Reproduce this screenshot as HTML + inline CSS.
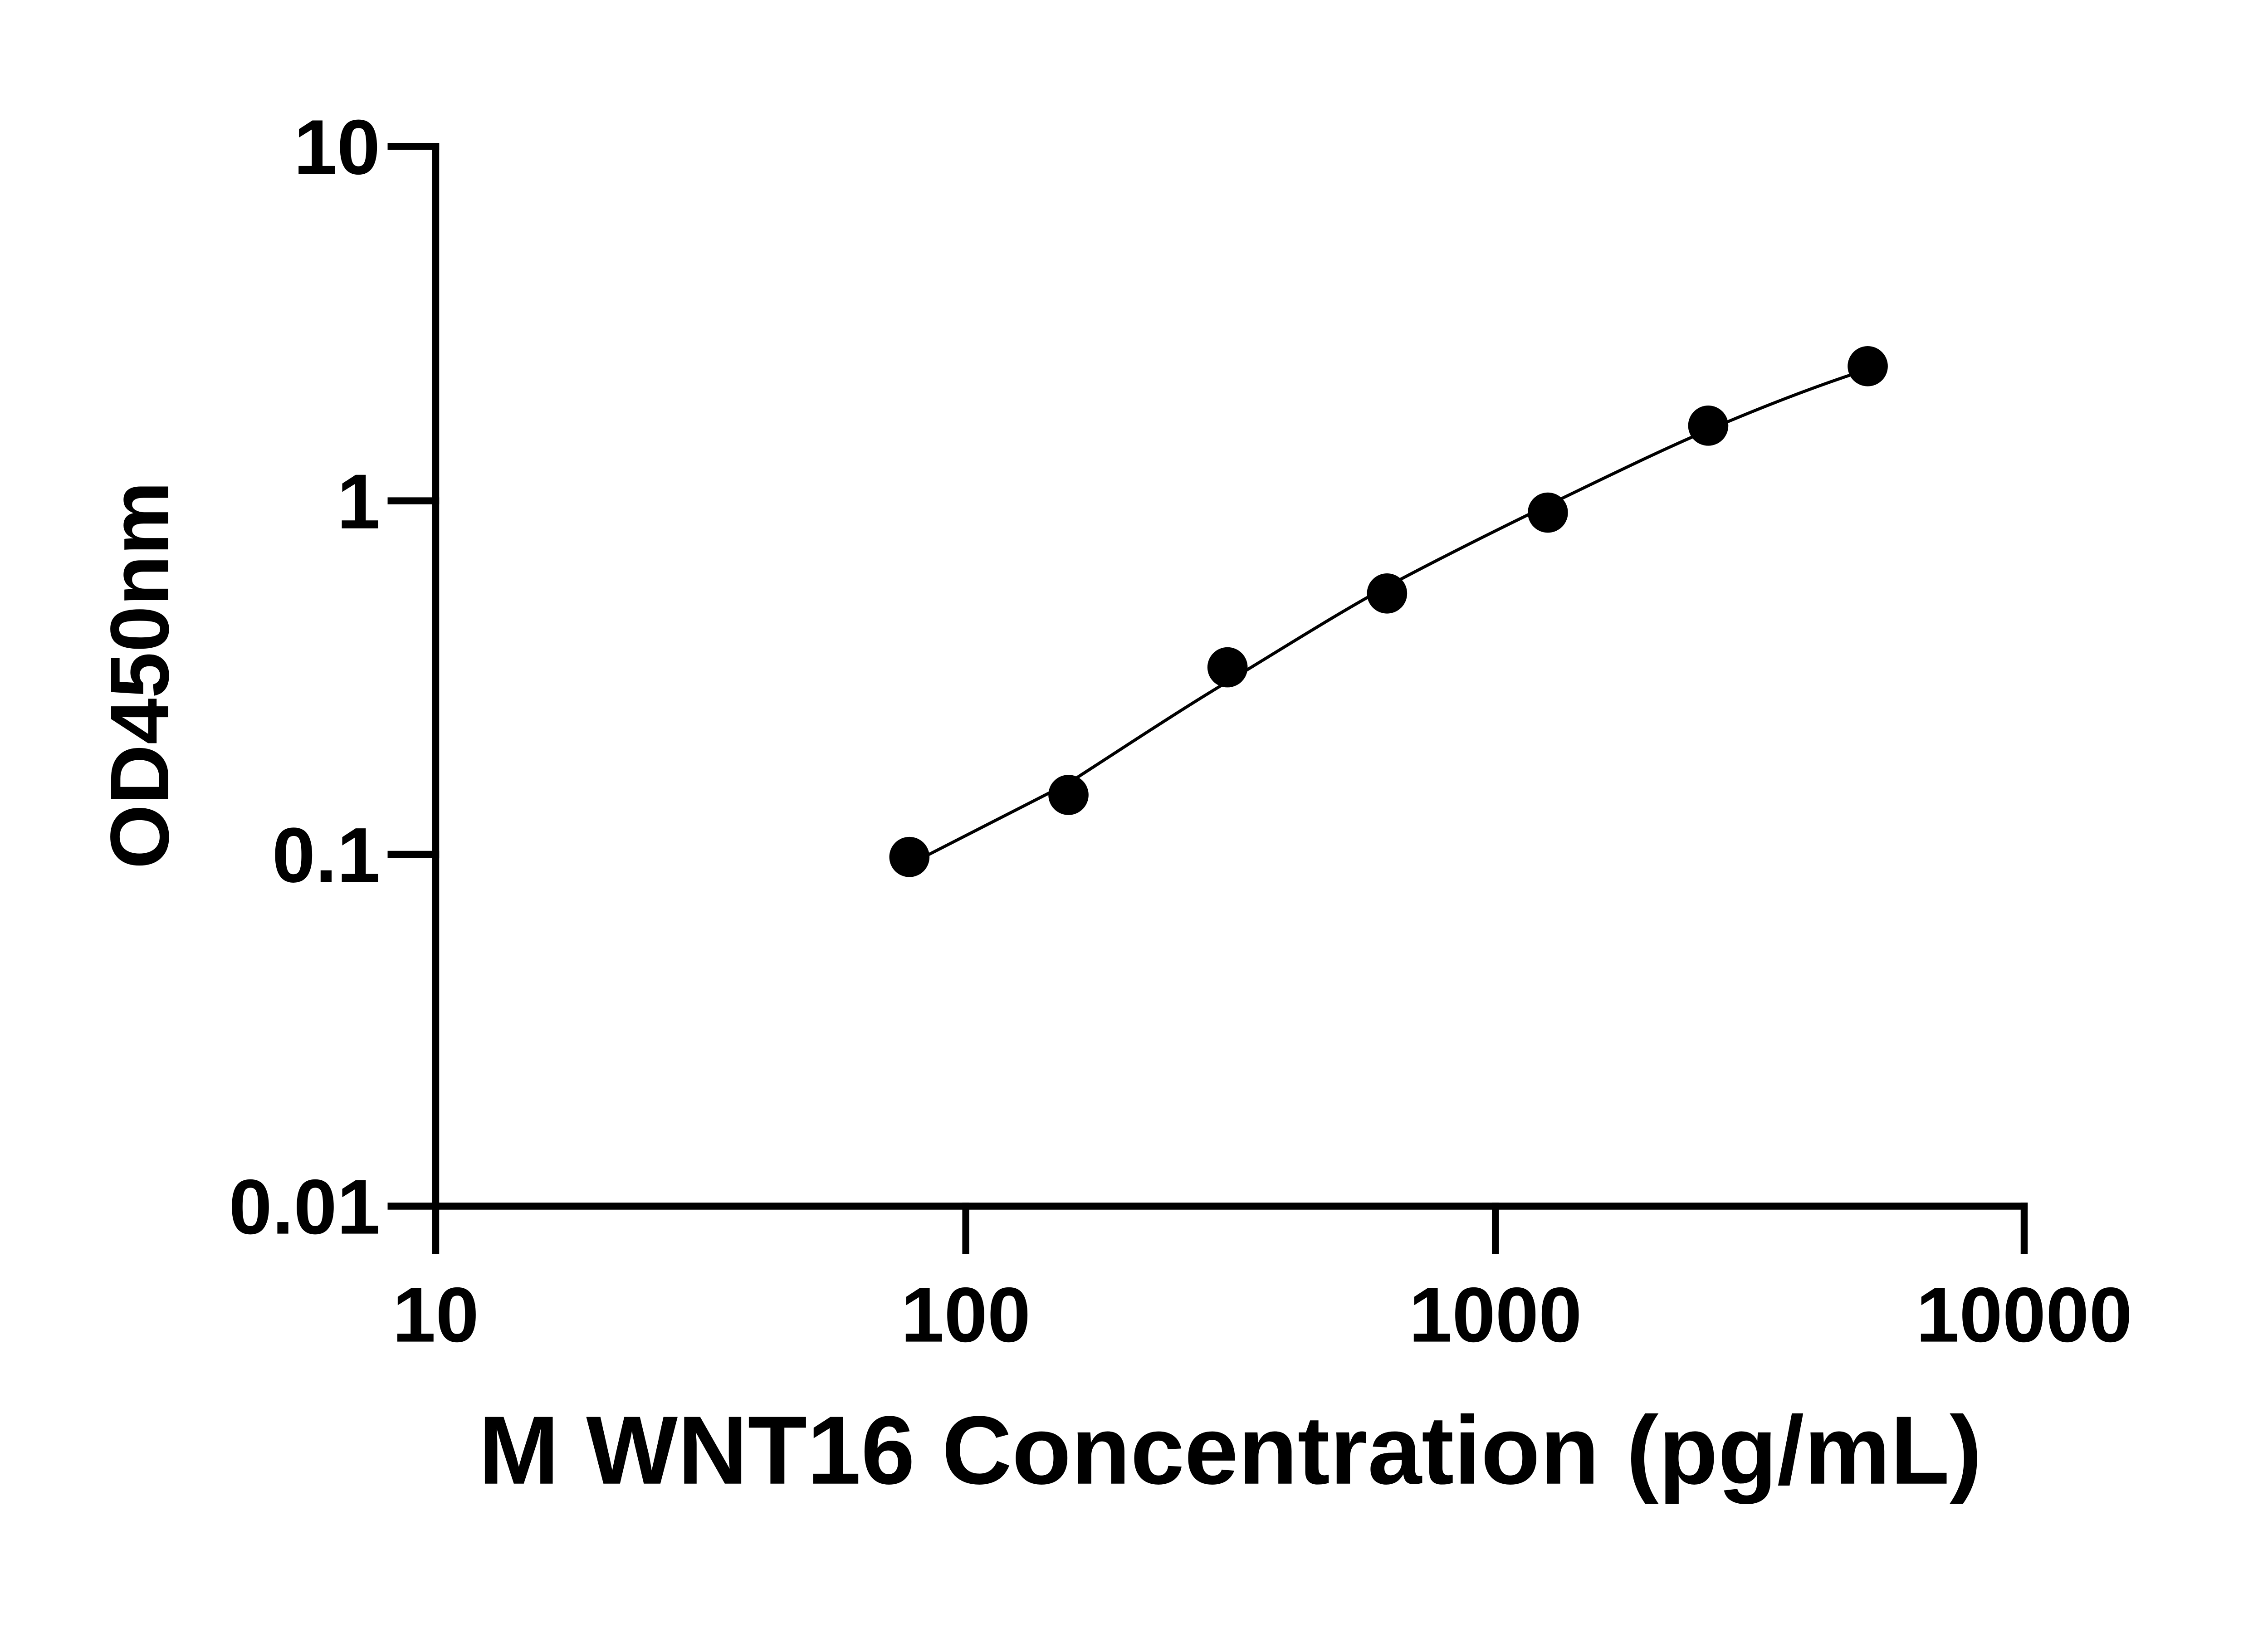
<!DOCTYPE html>
<html><head><meta charset="utf-8"><style>
html,body{margin:0;padding:0;background:#fff;}
svg{display:block;}
text{font-family:"Liberation Sans",sans-serif;font-weight:bold;fill:#000;}
</style></head><body>
<svg width="5142" height="3600" viewBox="0 0 5142 3600" xmlns="http://www.w3.org/2000/svg">
<g transform="scale(0.9634)">
<g stroke="#000" stroke-width="16" fill="none" stroke-linecap="square">
<line x1="997" y1="335" x2="997" y2="2760"/>
<line x1="997" y1="2760" x2="4632" y2="2760"/>
<line x1="895" y1="335" x2="997" y2="335"/>
<line x1="895" y1="1146" x2="997" y2="1146"/>
<line x1="895" y1="1955" x2="997" y2="1955"/>
<line x1="895" y1="2760" x2="997" y2="2760"/>
<line x1="997" y1="2760" x2="997" y2="2862"/>
<line x1="2210" y1="2760" x2="2210" y2="2862"/>
<line x1="3422" y1="2760" x2="3422" y2="2862"/>
<line x1="4632" y1="2760" x2="4632" y2="2862"/>
</g>
<path fill="none" stroke="#000" stroke-width="7" d="M2081,1978 L2445,1792 C2560,1718 2700,1625 2809,1560 C2930,1487 3050,1410 3174,1342 C3300,1275 3420,1215 3542,1156 C3665,1097 3790,1035 3909,984 C4030,932 4150,885 4274,845"/>
<g fill="#000">
<circle cx="2081" cy="1961" r="46"/>
<circle cx="2445" cy="1819" r="46"/>
<circle cx="2809" cy="1527" r="46"/>
<circle cx="3174" cy="1358" r="46"/>
<circle cx="3542" cy="1173" r="46"/>
<circle cx="3909" cy="974" r="46"/>
<circle cx="4274" cy="838" r="46"/>
</g>
<g font-size="178" text-anchor="end">
<text x="870" y="398">10</text>
<text x="870" y="1209">1</text>
<text x="870" y="2018">0.1</text>
<text x="870" y="2823">0.01</text>
</g>
<g font-size="178" text-anchor="middle">
<text x="997" y="3070">10</text>
<text x="2210" y="3070">100</text>
<text x="3422" y="3070">1000</text>
<text x="4632" y="3070">10000</text>
</g>
<text x="2815" y="3395" font-size="222" text-anchor="middle">M WNT16 Concentration (pg/mL)</text>
<text transform="translate(385,1545) rotate(-90)" font-size="190" text-anchor="middle">OD450nm</text>
</g>
</svg>
</body></html>
